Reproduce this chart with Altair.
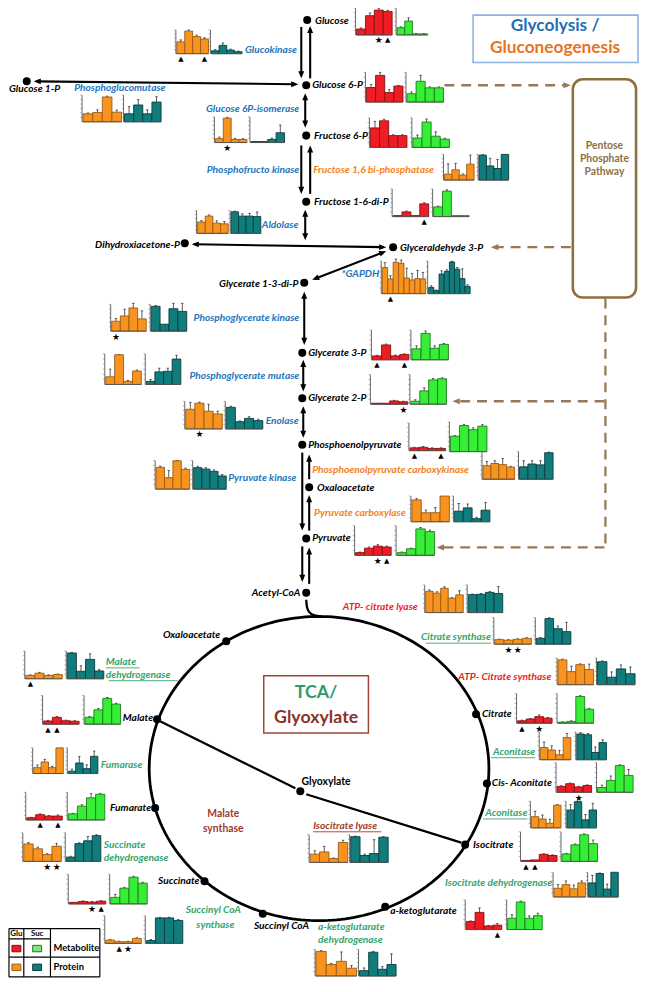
import math
import altair as alt
import pandas as pd
import numpy as np

# ===== mini bar charts: bar heights (fraction of panel height) and error bars =====
glucokinase_glu = [0.50, 0.95, 0.72, 0.62]
glucokinase_glu_err = [0.08, 0.05, 0.06, 0.05]
glucokinase_suc = [0.12, 0.35, 0.15, 0.08]
glucokinase_suc_err = [0.05, 0.10, 0.04, 0.03]
glucose_glu = [0.22, 0.72, 0.93, 0.88]
glucose_glu_err = [0.04, 0.10, 0.07, 0.04]
glucose_suc = [0.27, 0.52, 0.03, 0.03]
glucose_suc_err = [0.03, 0.12, 0.01, 0.01]
g6p_glu = [0.49, 0.90, 0.32, 0.54]
g6p_glu_err = [0.10, 0.10, 0.10, 0.02]
g6p_suc = [0.28, 0.70, 0.48, 0.48]
g6p_suc_err = [0.06, 0.20, 0.03, 0.03]
f6p_glu = [0.66, 0.90, 0.40, 0.40]
f6p_glu_err = [0.22, 0.05, 0.03, 0.03]
f6p_suc = [0.32, 0.86, 0.38, 0.28]
f6p_suc_err = [0.10, 0.10, 0.15, 0.03]
fbpase_glu = [0.23, 0.40, 0.19, 0.62]
fbpase_glu_err = [0.40, 0.25, 0.05, 0.35]
fbpase_suc = [0.97, 0.55, 0.45, 1.00]
fbpase_suc_err = [0.02, 0.30, 0.35, 0.00]
f16bp_glu = [0.02, 0.17, 0.02, 0.46]
f16bp_glu_err = [0.00, 0.03, 0.00, 0.04]
f16bp_suc = [0.35, 0.92, 0.02, 0.02]
f16bp_suc_err = [0.03, 0.05, 0.00, 0.00]
pglucomutase_glu = [0.30, 0.35, 0.93, 0.36]
pglucomutase_glu_err = [0.03, 0.10, 0.03, 0.08]
pglucomutase_suc = [0.30, 0.63, 0.30, 0.74]
pglucomutase_suc_err = [0.27, 0.20, 0.15, 0.20]
gpi_glu = [0.15, 0.95, 0.12, 0.12]
gpi_glu_err = [0.06, 0.03, 0.04, 0.03]
gpi_suc = [0.02, 0.02, 0.12, 0.38]
gpi_suc_err = [0.00, 0.00, 0.05, 0.30]
aldolase_glu = [0.50, 0.76, 0.45, 0.42]
aldolase_glu_err = [0.06, 0.05, 0.10, 0.10]
aldolase_suc = [0.95, 0.76, 0.76, 0.74]
aldolase_suc_err = [0.03, 0.10, 0.12, 0.20]
gapdh_glu = [0.80, 0.45, 0.96, 0.93, 0.48, 0.42, 0.46, 0.45]
gapdh_glu_err = [0.15, 0.10, 0.10, 0.10, 0.30, 0.20, 0.25, 0.20]
gapdh_suc = [0.19, 0.09, 0.60, 0.68, 0.97, 0.75, 0.46, 0.22]
gapdh_suc_err = [0.05, 0.02, 0.10, 0.05, 0.02, 0.05, 0.30, 0.05]
pgk_glu = [0.37, 0.57, 0.87, 0.46]
pgk_glu_err = [0.10, 0.25, 0.17, 0.30]
pgk_suc = [0.93, 0.26, 0.84, 0.74]
pgk_suc_err = [0.03, 0.00, 0.20, 0.30]
pgam_glu = [0.25, 0.97, 0.10, 0.44]
pgam_glu_err = [0.25, 0.01, 0.03, 0.03]
pgam_suc = [0.10, 0.41, 0.43, 0.83]
pgam_suc_err = [0.06, 0.12, 0.10, 0.12]
enolase_glu = [0.71, 0.93, 0.64, 0.54]
enolase_glu_err = [0.25, 0.04, 0.25, 0.10]
enolase_suc = [0.78, 0.26, 0.38, 0.30]
enolase_suc_err = [0.04, 0.03, 0.06, 0.05]
pk_glu = [0.76, 0.40, 0.99, 0.69]
pk_glu_err = [0.04, 0.25, 0.01, 0.04]
pk_suc = [0.75, 0.70, 0.62, 0.46]
pk_suc_err = [0.05, 0.05, 0.05, 0.05]
g3p_glu = [0.13, 0.50, 0.13, 0.18]
g3p_glu_err = [0.02, 0.03, 0.03, 0.02]
g3p_suc = [0.37, 0.89, 0.39, 0.52]
g3p_suc_err = [0.10, 0.08, 0.08, 0.03]
g2p_glu = [0.01, 0.03, 0.11, 0.08]
g2p_glu_err = [0.00, 0.00, 0.02, 0.02]
g2p_suc = [0.10, 0.45, 0.82, 0.86]
g2p_suc_err = [0.05, 0.10, 0.05, 0.03]
pep_glu = [0.10, 0.12, 0.08, 0.08]
pep_glu_err = [0.02, 0.03, 0.02, 0.02]
pep_suc = [0.52, 0.88, 0.74, 0.86]
pep_suc_err = [0.02, 0.03, 0.06, 0.05]
pepck_glu = [0.49, 0.57, 0.53, 0.44]
pepck_glu_err = [0.15, 0.10, 0.22, 0.03]
pepck_suc = [0.45, 0.55, 0.52, 0.96]
pepck_suc_err = [0.22, 0.12, 0.15, 0.02]
pc_glu = [0.85, 0.35, 0.35, 1.00]
pc_glu_err = [0.05, 0.10, 0.20, 0.00]
pc_suc = [0.41, 0.54, 0.12, 0.45]
pc_suc_err = [0.30, 0.15, 0.05, 0.30]
pyruvate_glu = [0.09, 0.24, 0.31, 0.28]
pyruvate_glu_err = [0.02, 0.04, 0.05, 0.03]
pyruvate_suc = [0.09, 0.22, 0.89, 0.80]
pyruvate_suc_err = [0.02, 0.02, 0.05, 0.05]
# TCA / glyoxylate
acl_glu = [0.77, 0.70, 0.88, 0.52, 0.64]
acl_glu_err = [0.05, 0.05, 0.05, 0.02, 0.15]
acl_suc = [0.65, 0.66, 0.73, 0.69]
acl_suc_err = [0.02, 0.03, 0.03, 0.25]
cs_glu = [0.17, 0.15, 0.18, 0.22]
cs_glu_err = [0.02, 0.02, 0.02, 0.02]
cs_suc = [0.22, 0.96, 0.58, 0.47]
cs_suc_err = [0.03, 0.03, 0.10, 0.35]
atpcs_glu = [0.93, 0.49, 0.75, 0.57]
atpcs_glu_err = [0.03, 0.20, 0.03, 0.20]
atpcs_suc = [0.86, 0.28, 0.59, 0.41]
atpcs_suc_err = [0.03, 0.20, 0.15, 0.25]
citrate_glu = [0.08, 0.14, 0.22, 0.17]
citrate_glu_err = [0.02, 0.02, 0.06, 0.02]
citrate_suc = [0.03, 0.06, 0.90, 0.47]
citrate_suc_err = [0.01, 0.02, 0.03, 0.03]
aconitase1_glu = [0.44, 0.35, 0.18, 0.80]
aconitase1_glu_err = [0.20, 0.15, 0.15, 0.15]
aconitase1_suc = [0.93, 0.90, 0.26, 0.62]
aconitase1_suc_err = [0.05, 0.05, 0.20, 0.10]
cisaconitate_glu = [0.20, 0.29, 0.18, 0.23]
cisaconitate_glu_err = [0.02, 0.02, 0.02, 0.02]
cisaconitate_suc = [0.16, 0.40, 0.90, 0.57]
cisaconitate_suc_err = [0.08, 0.15, 0.03, 0.20]
aconitase2_glu = [0.42, 0.33, 0.17, 0.85]
aconitase2_glu_err = [0.20, 0.15, 0.15, 0.02]
aconitase2_suc = [0.67, 0.98, 0.30, 0.67]
aconitase2_suc_err = [0.20, 0.02, 0.20, 0.25]
isocitrate_glu = [0.01, 0.05, 0.24, 0.20]
isocitrate_glu_err = [0.00, 0.00, 0.02, 0.02]
isocitrate_suc = [0.25, 0.56, 0.90, 0.60]
isocitrate_suc_err = [0.02, 0.03, 0.03, 0.12]
icdh_glu = [0.35, 0.50, 0.33, 0.57]
icdh_glu_err = [0.15, 0.15, 0.15, 0.08]
icdh_suc = [0.57, 0.95, 0.32, 1.00]
icdh_suc_err = [0.30, 0.02, 0.20, 0.00]
akg_glu = [0.27, 0.58, 0.12, 0.15]
akg_glu_err = [0.02, 0.15, 0.02, 0.05]
akg_suc = [0.38, 0.93, 0.38, 0.47]
akg_suc_err = [0.12, 0.03, 0.08, 0.08]
akgdh_glu = [0.92, 0.43, 0.55, 0.29]
akgdh_glu_err = [0.03, 0.04, 0.35, 0.10]
akgdh_suc = [0.20, 0.89, 0.25, 0.43]
akgdh_suc_err = [0.10, 0.03, 0.10, 0.40]
scs_glu = [0.12, 0.06, 0.06, 0.18]
scs_glu_err = [0.02, 0.02, 0.02, 0.02]
scs_suc = [0.10, 0.92, 0.92, 0.83]
scs_suc_err = [0.04, 0.02, 0.02, 0.03]
succinate_glu = [0.05, 0.08, 0.06, 0.09]
succinate_glu_err = [0.00, 0.02, 0.02, 0.02]
succinate_suc = [0.22, 0.53, 0.90, 0.70]
succinate_suc_err = [0.10, 0.03, 0.03, 0.03]
sdh_glu = [0.61, 0.44, 0.24, 0.53]
sdh_glu_err = [0.05, 0.06, 0.03, 0.10]
sdh_suc = [0.15, 0.62, 0.72, 0.90]
sdh_suc_err = [0.03, 0.03, 0.15, 0.03]
fumarate_glu = [0.08, 0.19, 0.14, 0.14]
fumarate_glu_err = [0.01, 0.03, 0.02, 0.04]
fumarate_suc = [0.22, 0.50, 0.80, 0.93]
fumarate_suc_err = [0.02, 0.05, 0.15, 0.03]
fumarase_glu = [0.23, 0.45, 0.23, 1.00]
fumarase_glu_err = [0.10, 0.10, 0.05, 0.00]
fumarase_suc = [0.09, 0.41, 0.19, 0.67]
fumarase_suc_err = [0.08, 0.25, 0.15, 0.20]
malate_glu = [0.11, 0.24, 0.12, 0.10]
malate_glu_err = [0.02, 0.03, 0.02, 0.02]
malate_suc = [0.24, 0.50, 0.90, 0.70]
malate_suc_err = [0.03, 0.05, 0.03, 0.03]
mdh_glu = [0.12, 0.20, 0.12, 0.15]
mdh_glu_err = [0.02, 0.03, 0.02, 0.02]
mdh_suc = [0.93, 0.27, 0.70, 0.28]
mdh_suc_err = [0.02, 0.20, 0.20, 0.05]
icl_glu = [0.30, 0.38, 0.14, 0.72]
icl_glu_err = [0.12, 0.20, 0.02, 0.08]
icl_suc = [0.93, 0.25, 0.32, 0.91]
icl_suc_err = [0.02, 0.05, 0.50, 0.02]

COLORS = {
    "red": ("#EE1C24", "#8A0E0E"),
    "green": ("#35EE35", "#1C7A1C"),
    "orange": ("#F7931E", "#9A5A12"),
    "teal": ("#107C7C", "#083C3C"),
}

# name, values, errors, colour, left, right, baseline, panel height, markers (t=triangle, s=star)
PANELS = [
    ("glucokinase_glu", glucokinase_glu, glucokinase_glu_err, "orange", 178, 211, 48, 24, "t..t"),
    ("glucokinase_suc", glucokinase_suc, glucokinase_suc_err, "teal", 213, 245, 48, 24, ""),
    ("glucose_glu", glucose_glu, glucose_glu_err, "red", 360, 397, 29, 27, "..st"),
    ("glucose_suc", glucose_suc, glucose_suc_err, "green", 401, 433, 29, 27, ""),
    ("g6p_glu", g6p_glu, g6p_glu_err, "red", 370, 408, 97, 30, ""),
    ("g6p_suc", g6p_suc, g6p_suc_err, "green", 411, 449, 97, 30, ""),
    ("f6p_glu", f6p_glu, f6p_glu_err, "red", 374, 412, 143, 30, ""),
    ("f6p_suc", f6p_suc, f6p_suc_err, "green", 417, 455, 143, 30, ""),
    ("fbpase_glu", fbpase_glu, fbpase_glu_err, "orange", 449, 480, 176, 26, ""),
    ("fbpase_suc", fbpase_suc, fbpase_suc_err, "teal", 484, 515, 176, 26, ""),
    ("f16bp_glu", f16bp_glu, f16bp_glu_err, "red", 397, 434, 213, 28, "...t"),
    ("f16bp_suc", f16bp_suc, f16bp_suc_err, "green", 438, 475, 213, 28, ""),
    ("pglucomutase_glu", pglucomutase_glu, pglucomutase_glu_err, "orange", 83, 123, 117, 27, ""),
    ("pglucomutase_suc", pglucomutase_suc, pglucomutase_suc_err, "teal", 125, 163, 117, 27, ""),
    ("gpi_glu", gpi_glu, gpi_glu_err, "orange", 217, 250, 138, 26, ".s.."),
    ("gpi_suc", gpi_suc, gpi_suc_err, "teal", 253, 288, 138, 26, ""),
    ("aldolase_glu", aldolase_glu, aldolase_glu_err, "orange", 199, 231, 230, 23, ""),
    ("aldolase_suc", aldolase_suc, aldolase_suc_err, "teal", 233, 264, 230, 23, ""),
    ("gapdh_glu", gapdh_glu, gapdh_glu_err, "orange", 386, 431, 291, 33, ".t"),
    ("gapdh_suc", gapdh_suc, gapdh_suc_err, "teal", 433, 476, 291, 33, ""),
    ("pgk_glu", pgk_glu, pgk_glu_err, "orange", 112, 148, 329, 27, "s..."),
    ("pgk_suc", pgk_suc, pgk_suc_err, "teal", 152, 189, 329, 27, ""),
    ("pgam_glu", pgam_glu, pgam_glu_err, "orange", 106, 143, 383, 31, ""),
    ("pgam_suc", pgam_suc, pgam_suc_err, "teal", 147, 183, 383, 31, ""),
    ("enolase_glu", enolase_glu, enolase_glu_err, "orange", 187, 225, 428, 28, ".s.."),
    ("enolase_suc", enolase_suc, enolase_suc_err, "teal", 228, 266, 428, 28, ""),
    ("pk_glu", pk_glu, pk_glu_err, "orange", 157, 192, 489, 29, ""),
    ("pk_suc", pk_suc, pk_suc_err, "teal", 195, 229, 489, 29, ""),
    ("g3p_glu", g3p_glu, g3p_glu_err, "red", 376, 414, 358, 30, "t..t"),
    ("g3p_suc", g3p_suc, g3p_suc_err, "green", 416, 454, 358, 30, ""),
    ("g2p_glu", g2p_glu, g2p_glu_err, "red", 375, 413, 403, 30, "...s"),
    ("g2p_suc", g2p_suc, g2p_suc_err, "green", 415, 452, 403, 30, ""),
    ("pep_glu", pep_glu, pep_glu_err, "red", 414, 451, 450, 28, "t..t"),
    ("pep_suc", pep_suc, pep_suc_err, "green", 455, 493, 451, 30, ""),
    ("pepck_glu", pepck_glu, pepck_glu_err, "orange", 488, 521, 479, 28, ""),
    ("pepck_suc", pepck_suc, pepck_suc_err, "teal", 525, 560, 479, 28, ""),
    ("pc_glu", pc_glu, pc_glu_err, "orange", 416, 455, 522, 26, ""),
    ("pc_suc", pc_suc, pc_suc_err, "teal", 459, 496, 522, 26, ""),
    ("pyruvate_glu", pyruvate_glu, pyruvate_glu_err, "red", 359, 396, 556, 30, "..st"),
    ("pyruvate_suc", pyruvate_suc, pyruvate_suc_err, "green", 401, 440, 556, 30, ""),
    ("acl_glu", acl_glu, acl_glu_err, "orange", 430, 469, 614, 28, ""),
    ("acl_suc", acl_suc, acl_suc_err, "teal", 473, 509, 614, 28, ""),
    ("cs_glu", cs_glu, cs_glu_err, "orange", 500, 538, 646, 27, ".ss."),
    ("cs_suc", cs_suc, cs_suc_err, "teal", 542, 578, 646, 27, ""),
    ("atpcs_glu", atpcs_glu, atpcs_glu_err, "orange", 564, 601, 687, 27, ""),
    ("atpcs_suc", atpcs_suc, atpcs_suc_err, "teal", 604, 643, 687, 27, ""),
    ("citrate_glu", citrate_glu, citrate_glu_err, "red", 523, 559, 726, 30, "t.s."),
    ("citrate_suc", citrate_suc, citrate_suc_err, "green", 564, 601, 726, 30, ""),
    ("aconitase1_glu", aconitase1_glu, aconitase1_glu_err, "orange", 546, 578, 763, 28, ""),
    ("aconitase1_suc", aconitase1_suc, aconitase1_suc_err, "teal", 583, 614, 763, 28, ""),
    ("cisaconitate_glu", cisaconitate_glu, cisaconitate_glu_err, "red", 563, 599, 796, 30, "..s."),
    ("cisaconitate_suc", cisaconitate_suc, cisaconitate_suc_err, "green", 604, 641, 796, 30, ""),
    ("aconitase2_glu", aconitase2_glu, aconitase2_glu_err, "orange", 537, 568, 832, 27, ""),
    ("aconitase2_suc", aconitase2_suc, aconitase2_suc_err, "teal", 573, 604, 832, 27, ""),
    ("isocitrate_glu", isocitrate_glu, isocitrate_glu_err, "red", 527, 564, 866, 30, "tt.."),
    ("isocitrate_suc", isocitrate_suc, isocitrate_suc_err, "green", 568, 605, 866, 30, ""),
    ("icdh_glu", icdh_glu, icdh_glu_err, "orange", 560, 593, 902, 25, ""),
    ("icdh_suc", icdh_suc, icdh_suc_err, "teal", 595, 626, 902, 25, ""),
    ("akg_glu", akg_glu, akg_glu_err, "red", 471, 508, 935, 30, "...t"),
    ("akg_suc", akg_suc, akg_suc_err, "green", 513, 549, 935, 30, ""),
    ("akgdh_glu", akgdh_glu, akgdh_glu_err, "orange", 319, 361, 982, 27, ""),
    ("akgdh_suc", akgdh_suc, akgdh_suc_err, "teal", 363, 401, 982, 27, ""),
    ("scs_glu", scs_glu, scs_glu_err, "orange", 106, 143, 949, 28, ".ts."),
    ("scs_suc", scs_suc, scs_suc_err, "teal", 147, 185, 949, 28, ""),
    ("succinate_glu", succinate_glu, succinate_glu_err, "red", 69, 107, 909, 30, "..st"),
    ("succinate_suc", succinate_suc, succinate_suc_err, "green", 111, 149, 909, 30, ""),
    ("sdh_glu", sdh_glu, sdh_glu_err, "orange", 23, 62, 866, 29, "..ss"),
    ("sdh_suc", sdh_suc, sdh_suc_err, "teal", 66, 102, 866, 29, ""),
    ("fumarate_glu", fumarate_glu, fumarate_glu_err, "red", 26, 63, 824, 28, ".t.t"),
    ("fumarate_suc", fumarate_suc, fumarate_suc_err, "green", 68, 106, 824, 28, ""),
    ("fumarase_glu", fumarase_glu, fumarase_glu_err, "orange", 33, 64, 777, 26, ""),
    ("fumarase_suc", fumarase_suc, fumarase_suc_err, "teal", 68, 99, 777, 26, ""),
    ("malate_glu", malate_glu, malate_glu_err, "red", 43, 80, 727, 29, "tt.."),
    ("malate_suc", malate_suc, malate_suc_err, "green", 85, 122, 727, 29, ""),
    ("mdh_glu", mdh_glu, mdh_glu_err, "orange", 25, 63, 681, 28, "t..."),
    ("mdh_suc", mdh_suc, mdh_suc_err, "teal", 67, 105, 681, 28, ""),
    ("icl_glu", icl_glu, icl_glu_err, "orange", 313, 352, 867, 28, ""),
    ("icl_suc", icl_suc, icl_suc_err, "teal", 354, 393, 867, 28, ""),
]

# ===== pathway nodes =====
node_names = ["Glucose", "Glucose 6-P", "Fructose 6-P", "Fructose 1-6-di-P", "Glyceraldehyde 3-P",
              "Dihydroxiacetone-P", "Glucose 1-P", "Glycerate 1-3-di-P", "Glycerate 3-P",
              "Glycerate 2-P", "Phosphoenolpyruvate", "Oxaloacetate", "Pyruvate", "Acetyl-CoA",
              "Oxaloacetate", "Malate", "Fumarate", "Succinate", "Succinyl CoA",
              "a-ketoglutarate", "Isocitrate", "Cis- Aconitate", "Citrate"]
node_x = [311, 310, 310, 310, 398, 187, 27, 308, 306, 306, 306, 313, 310, 310,
          229, 159, 157, 207, 266, 390, 471, 493, 482]
node_y = [14, 80, 131, 198, 244, 240, 76, 280, 351, 397, 444, 487, 539, 594,
          643, 722, 812, 886, 919, 912, 849, 787, 717]
node_label_x = [319, 316, 318, 318, 405, 182, 9, 302, 312, 312, 312, 321, 316, 304,
                223, 155, 153, 202, 285, 395, 479, 498, 488]
node_label_y = [15, 80, 131, 198, 245, 242, 84, 281, 351, 397, 444, 488, 539, 594,
                637, 721, 812, 886, 931, 916, 849, 787, 717]
node_label_align = ["left", "left", "left", "left", "left", "right", "left", "right", "left",
                    "left", "left", "left", "left", "right", "right", "right", "right", "right",
                    "center", "left", "left", "left", "left"]
glyoxylate_node = (304, 795)

# ===== enzyme labels =====
BLUE, ORANGE, RED, GREEN, BROWN = "#1C75BC", "#F58220", "#ED1C24", "#35A56B", "#A23A2A"
enzyme_text = ["Glucokinase", "Phosphoglucomutase", "Glucose 6P-isomerase", "Phosphofructo kinase",
               "Aldolase", "*GAPDH", "Phosphoglycerate kinase", "Phosphoglycerate mutase",
               "Enolase", "Pyruvate kinase", "Fructose 1,6 bi-phosphatase",
               "Phosphoenolpyruvate carboxykinase", "Pyruvate carboxylase",
               "ATP- citrate lyase", "ATP- Citrate synthase", "Citrate synthase", "Aconitase",
               "Aconitase", "Isocitrate dehydrogenase", "a-ketoglutarate", "dehydrogenase",
               "Succinyl CoA", "synthase", "Succinate", "dehydrogenase", "Fumarase",
               "Malate", " dehydrogenase", "Isocitrate lyase"]
enzyme_x = [248, 75, 303, 303, 265, 384, 303, 303, 269, 231, 317, 316, 318, 347, 464, 497, 542,
            534, 559, 322, 322, 216, 218, 105, 105, 102, 107, 107, 317]
enzyme_y = [44, 83, 104, 166, 222, 271, 316, 374, 420, 478, 166, 470, 513, 608, 679, 639, 755,
            817, 888, 932, 946, 915, 930, 849, 863, 768, 664, 677, 830]
enzyme_align = ["left", "left", "right", "right", "left", "right", "right", "right", "left", "left",
                "left", "left", "left", "left", "left", "right", "right", "right", "right", "left",
                "left", "center", "center", "left", "left", "left", "left", "left", "left"]
enzyme_color = [BLUE] * 10 + [ORANGE] * 3 + [RED] * 2 + [GREEN] * 13 + [BROWN]
underlines = [(431, 497, 645), (497, 542, 761), (489, 534, 823), (107, 141, 670),
              (110, 180, 683), (317, 386, 836)]

# ===== arrows: x1, y1, x2, y2, head at start, head at end =====
solid_arrows = [
    (305, 21, 305, 73, 0, 1), (314, 73, 314, 20, 0, 1), (309, 88, 309, 123, 1, 1),
    (305, 141, 305, 190, 0, 1), (314, 190, 314, 141, 0, 1), (309, 206, 309, 237, 1, 1),
    (34, 76, 302, 79, 1, 1), (194, 241, 391, 244, 1, 1), (316, 277, 391, 248, 1, 1),
    (308, 289, 308, 343, 1, 1), (307, 358, 307, 390, 1, 1), (307, 405, 307, 437, 1, 1),
    (306, 452, 306, 531, 0, 1), (313, 479, 313, 454, 0, 1), (313, 531, 313, 495, 0, 1),
    (306, 547, 306, 583, 0, 1), (313, 585, 313, 548, 0, 1),
]
dashed_arrows = [
    (450, 80, 578, 80, 0, 1), (578, 244, 497, 244, 0, 1), (613, 296, 613, 548, 0, 0),
    (612, 400, 458, 400, 0, 1), (612, 548, 442, 548, 0, 1),
]
acetyl_curve_x = [310, 310.5, 313, 318, 326]
acetyl_curve_y = [601, 609, 614.5, 617.2, 618]
tca_center, tca_rx, tca_ry = (323, 772), 172, 154
tca_inner_lines = [(162, 724, 299, 792), (310, 798, 467, 847)]

# ===== helpers =====
xs = alt.Scale(domain=[8, 647], nice=False, zero=False)
ys = alt.Scale(domain=[8, 992], nice=False, zero=False, reverse=True)


def X(f="x"):
    return alt.X(f"{f}:Q", scale=xs, axis=None)


def Y(f="y"):
    return alt.Y(f"{f}:Q", scale=ys, axis=None)


layers = []

# ---- TCA ellipse ----
t = np.linspace(0, 2 * np.pi, 241)
ell = pd.DataFrame({"x": tca_center[0] + tca_rx * np.cos(t),
                    "y": tca_center[1] + tca_ry * np.sin(t), "i": np.arange(len(t))})
layers.append(alt.Chart(ell).mark_line(color="black", strokeWidth=2.8).encode(
    x=X(), y=Y(), order="i:Q"))
acc = pd.DataFrame({"x": acetyl_curve_x, "y": acetyl_curve_y, "i": range(len(acetyl_curve_x))})
layers.append(alt.Chart(acc).mark_line(color="black", strokeWidth=2.3, interpolate="basis").encode(
    x=X(), y=Y(), order="i:Q"))
inner = pd.DataFrame(tca_inner_lines, columns=["x", "y", "x2", "y2"])
layers.append(alt.Chart(inner).mark_rule(color="black", strokeWidth=2.3).encode(
    x=X(), y=Y(), x2="x2:Q", y2="y2:Q"))

ARROW = "M0,0L-0.75,-1.8L0.75,-1.8Z"


def arrow_frames(arrs):
    lines, heads = [], []
    for x1, y1, x2, y2, h1, h2 in arrs:
        L = math.hypot(x2 - x1, y2 - y1)
        ux, uy = (x2 - x1) / L, (y2 - y1) / L
        sx, sy, ex, ey = x1, y1, x2, y2
        if h1:
            sx, sy = x1 + ux * 3, y1 + uy * 3
            heads.append(dict(x=x1, y=y1, ang=math.degrees(math.atan2(ux, -uy)) % 360))
        if h2:
            ex, ey = x2 - ux * 3, y2 - uy * 3
            heads.append(dict(x=x2, y=y2, ang=math.degrees(math.atan2(-ux, uy)) % 360))
        lines.append(dict(x=sx, y=sy, x2=ex, y2=ey))
    return pd.DataFrame(lines), pd.DataFrame(heads)


sl, sh = arrow_frames(solid_arrows)
layers.append(alt.Chart(sl).mark_rule(color="black", strokeWidth=2.1).encode(
    x=X(), y=Y(), x2="x2:Q", y2="y2:Q"))
layers.append(alt.Chart(sh).mark_point(shape=ARROW, filled=True, color="black", size=64, opacity=1).encode(
    x=X(), y=Y(), angle=alt.Angle("ang:Q", scale=None)))
TAN = "#97795A"
dl, dh = arrow_frames(dashed_arrows)
layers.append(alt.Chart(dl).mark_rule(color=TAN, strokeWidth=2.3, strokeDash=[10, 7]).encode(
    x=X(), y=Y(), x2="x2:Q", y2="y2:Q"))
layers.append(alt.Chart(dh).mark_point(shape=ARROW, filled=True, color=TAN, size=70, opacity=1).encode(
    x=X(), y=Y(), angle=alt.Angle("ang:Q", scale=None)))

# ---- boxes ----
boxes = pd.DataFrame([
    dict(x=479, x2=646, y=9, y2=57, s="#8DB3E2", w=1.6),
    dict(x=267, x2=373, y=678, y2=736, s="#A04535", w=1.5),
])
layers.append(alt.Chart(boxes).mark_rect(fill=None, fillOpacity=0).encode(
    x=X(), y=Y(), x2="x2:Q", y2="y2:Q",
    stroke=alt.Stroke("s:N", scale=None), strokeWidth=alt.StrokeWidth("w:Q", scale=None)))
pent = pd.DataFrame([dict(x=580, x2=644, y=74, y2=295)])
layers.append(alt.Chart(pent).mark_rect(fill=None, fillOpacity=0, stroke="#8E6F40", strokeWidth=2.6,
                                        cornerRadius=10).encode(x=X(), y=Y(), x2="x2:Q", y2="y2:Q"))

# ---- nodes ----
nodes = pd.DataFrame({"x": node_x + [glyoxylate_node[0]], "y": node_y + [glyoxylate_node[1]]})
layers.append(alt.Chart(nodes).mark_circle(color="black", size=66, opacity=1).encode(x=X(), y=Y()))

# ---- mini bar charts ----
bar_rows, err_rows, axis_rows, tick_rows, mark_rows = [], [], [], [], []
for name, vals, errs, kind, x0, x1, base, h, marks in PANELS:
    fill, stroke = COLORS[kind]
    n = len(vals)
    w = (x1 - x0 - 1) / n
    axis_rows.append(dict(x=x0, y=base, x2=x0, y2=base - h))
    axis_rows.append(dict(x=x0, y=base, x2=x1, y2=base))
    for k in range(1, 7):
        ty = base - h * k / 6
        tick_rows.append(dict(x=x0 - 1.8, x2=x0, y=ty, y2=ty))
    marks = marks.ljust(n, ".")
    for i, (v, e) in enumerate(zip(vals, errs)):
        bx0 = x0 + 1 + i * w
        bx1 = bx0 + w
        top = base - max(v * h, 1.0)
        bar_rows.append(dict(x=bx0, x2=bx1, y=base, y2=top, fill=fill, stroke=stroke))
        cx = (bx0 + bx1) / 2
        if e > 0:
            et = top - e * h
            err_rows.append(dict(x=cx, x2=cx, y=top, y2=et))
            err_rows.append(dict(x=cx - 1.2, x2=cx + 1.2, y=et, y2=et))
        if marks[i] in "ts":
            mark_rows.append(dict(x=cx, y=base + 5.5, t="▲" if marks[i] == "t" else "★",
                                  s=7 if marks[i] == "t" else 9))

layers.append(alt.Chart(pd.DataFrame(err_rows)).mark_rule(color="#333333", strokeWidth=0.8).encode(
    x=X(), y=Y(), x2="x2:Q", y2="y2:Q"))
layers.append(alt.Chart(pd.DataFrame(bar_rows)).mark_rect(strokeWidth=0.9).encode(
    x=X(), y=Y(), x2="x2:Q", y2="y2:Q",
    fill=alt.Fill("fill:N", scale=None), stroke=alt.Stroke("stroke:N", scale=None)))
layers.append(alt.Chart(pd.DataFrame(axis_rows)).mark_rule(color="#555555", strokeWidth=0.9).encode(
    x=X(), y=Y(), x2="x2:Q", y2="y2:Q"))
layers.append(alt.Chart(pd.DataFrame(tick_rows)).mark_rule(color="#777777", strokeWidth=0.6).encode(
    x=X(), y=Y(), x2="x2:Q", y2="y2:Q"))
layers.append(alt.Chart(pd.DataFrame(mark_rows)).mark_text(font="DejaVu Sans", color="black",
                                                            baseline="middle").encode(
    x=X(), y=Y(), text="t:N", size=alt.Size("s:Q", scale=None)))

# ---- text ----
LS = 10.3
lab = []
for tx, x, y, a in zip(node_names, node_label_x, node_label_y, node_label_align):
    lab.append(dict(text=tx, x=x, y=y, color="black", align=a, style="italic", weight="bold", size=LS, font="Lato"))
for tx, x, y, a, c in zip(enzyme_text, enzyme_x, enzyme_y, enzyme_align, enzyme_color):
    lab.append(dict(text=tx, x=x, y=y, color=c, align=a, style="italic", weight="bold", size=LS, font="Lato"))
lab += [
    dict(text="Glyoxylate", x=330, y=786, color="black", align="center", style="normal", weight="bold", size=10.5, font="Lato"),
    dict(text="Malate", x=226, y=818, color=BROWN, align="center", style="normal", weight="bold", size=10.5, font="Lato"),
    dict(text="synthase", x=226, y=833, color=BROWN, align="center", style="normal", weight="bold", size=10.5, font="Lato"),
    dict(text="Glycolysis /", x=562, y=20, color="#1F6FB5", align="center", style="normal", weight="bold", size=17.5, font="Lato"),
    dict(text="Gluconeogenesis", x=562, y=42, color="#E8731F", align="center", style="normal", weight="bold", size=17.5, font="Lato"),
    dict(text="Pentose", x=612, y=142, color="#8E6F40", align="center", style="normal", weight="bold", size=10.5, font="Lato"),
    dict(text="Phosphate", x=612, y=155, color="#8E6F40", align="center", style="normal", weight="bold", size=10.5, font="Lato"),
    dict(text="Pathway", x=612, y=168, color="#8E6F40", align="center", style="normal", weight="bold", size=10.5, font="Lato"),
    dict(text="TCA/", x=320, y=696, color="#2E9B6B", align="center", style="normal", weight="bold", size=18, font="Lato"),
    dict(text="Glyoxylate", x=320, y=721, color="#8B3324", align="center", style="normal", weight="bold", size=18, font="Lato"),
    dict(text="Glu", x=16.5, y=939.5, color="black", align="center", style="normal", weight="bold", size=8, font="Lato"),
    dict(text="Suc", x=37.5, y=939.5, color="black", align="center", style="normal", weight="bold", size=8, font="Lato"),
    dict(text="Metabolite", x=54, y=954, color="black", align="left", style="normal", weight="bold", size=9.5, font="Lato"),
    dict(text="Protein", x=54, y=973, color="black", align="left", style="normal", weight="bold", size=9.5, font="Lato"),
]
lab = pd.DataFrame(lab)
for (a, s, wgt, sz, f), g in lab.groupby(["align", "style", "weight", "size", "font"]):
    layers.append(alt.Chart(g).mark_text(align=a, baseline="middle", fontStyle=s, fontWeight=wgt,
                                         fontSize=float(sz), font=f).encode(
        x=X(), y=Y(), text="text:N", color=alt.Color("color:N", scale=None)))

ul = pd.DataFrame([dict(x=a, x2=b, y=y, y2=y) for a, b, y in underlines])
ul["c"] = [GREEN, GREEN, GREEN, GREEN, GREEN, BROWN]
layers.append(alt.Chart(ul).mark_rule(strokeWidth=0.9).encode(
    x=X(), y=Y(), x2="x2:Q", y2="y2:Q", color=alt.Color("c:N", scale=None)))

# ---- legend table ----
leg_lines = pd.DataFrame([
    dict(x=9, x2=101, y=934, y2=934), dict(x=9, x2=101, y=983, y2=983),
    dict(x=9, x2=9, y=934, y2=983), dict(x=101, x2=101, y=934, y2=983),
    dict(x=24, x2=24, y=934, y2=983), dict(x=51, x2=51, y=934, y2=983),
    dict(x=9, x2=51, y=944.5, y2=944.5), dict(x=9, x2=101, y=963, y2=963),
])
layers.append(alt.Chart(leg_lines).mark_rule(color="black", strokeWidth=1.2).encode(
    x=X(), y=Y(), x2="x2:Q", y2="y2:Q"))
leg_sq = pd.DataFrame([
    dict(x=12, x2=21, y=951, y2=957.5, fill=COLORS["red"][0], stroke=COLORS["red"][1]),
    dict(x=33, x2=42, y=951, y2=957.5, fill="#7EE27E", stroke="#1C7A1C"),
    dict(x=12, x2=21, y=970, y2=976.5, fill=COLORS["orange"][0], stroke=COLORS["orange"][1]),
    dict(x=33, x2=42, y=970, y2=976.5, fill=COLORS["teal"][0], stroke=COLORS["teal"][1]),
])
layers.append(alt.Chart(leg_sq).mark_rect(strokeWidth=1).encode(
    x=X(), y=Y(), x2="x2:Q", y2="y2:Q",
    fill=alt.Fill("fill:N", scale=None), stroke=alt.Stroke("stroke:N", scale=None)))

chart = alt.layer(*layers).properties(
    width=639, height=984, padding=0, autosize=alt.AutoSizeParams(type="none"),
    background="white",
).configure_view(stroke=None)

chart.save("out.html", embed_options={"renderer": "svg", "actions": False})
